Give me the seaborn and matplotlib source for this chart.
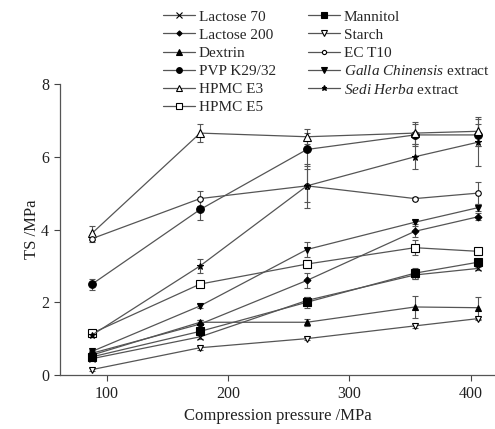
import numpy as np
import pandas as pd
import matplotlib
matplotlib.use("Agg")
import matplotlib.pyplot as plt
import seaborn as sns

pressure = [88, 177, 265, 354, 406]

series_names = ["Lactose 70", "Lactose 200", "Dextrin", "PVP K29/32", "HPMC E3",
                "HPMC E5", "Mannitol", "Starch", "EC T10",
                "Galla Chinensis extract", "Sedi Herba extract"]

lactose70 = [0.45, 1.05, 2.05, 2.75, 2.93]
lactose200 = [0.60, 1.40, 2.60, 3.95, 4.35]
dextrin = [0.55, 1.45, 1.45, 1.87, 1.85]
pvp = [2.50, 4.55, 6.20, 6.60, 6.60]
hpmc_e3 = [3.90, 6.65, 6.55, 6.65, 6.70]
hpmc_e5 = [1.15, 2.50, 3.05, 3.50, 3.40]
mannitol = [0.50, 1.20, 2.00, 2.80, 3.10]
starch = [0.15, 0.75, 1.00, 1.35, 1.55]
ec_t10 = [3.75, 4.85, 5.20, 4.85, 5.00]
galla = [0.65, 1.90, 3.45, 4.20, 4.60]
sedi = [1.10, 3.00, 5.20, 6.00, 6.40]

err_lactose70 = [0.05, 0.05, 0.10, 0.10, 0.05]
err_lactose200 = [0.05, 0.10, 0.20, 0.15, 0.10]
err_dextrin = [0.10, 0.05, 0.10, 0.30, 0.30]
err_pvp = [0.15, 0.30, 0.45, 0.30, 0.30]
err_hpmc_e3 = [0.20, 0.25, 0.20, 0.30, 0.40]
err_hpmc_e5 = [0.10, 0.05, 0.10, 0.20, 0.10]
err_mannitol = [0.05, 0.10, 0.15, 0.15, 0.05]
err_starch = [0.05, 0.05, 0.05, 0.05, 0.05]
err_ec_t10 = [0.10, 0.20, 0.60, 0.05, 0.30]
err_galla = [0.05, 0.05, 0.20, 0.05, 0.10]
err_sedi = [0.05, 0.20, 0.45, 0.35, 0.65]

values = [lactose70, lactose200, dextrin, pvp, hpmc_e3, hpmc_e5, mannitol,
          starch, ec_t10, galla, sedi]
errors = [err_lactose70, err_lactose200, err_dextrin, err_pvp, err_hpmc_e3,
          err_hpmc_e5, err_mannitol, err_starch, err_ec_t10, err_galla, err_sedi]

rows = []
for name, vals, errs in zip(series_names, values, errors):
    for x, v, e in zip(pressure, vals, errs):
        rows.append({"series": name, "pressure": x, "TS": v, "err": e})
df = pd.DataFrame(rows)

sns.set_theme(style="ticks")
plt.rcParams["font.family"] = ["Liberation Serif", "DejaVu Serif"]
plt.rcParams["mathtext.fontset"] = "custom"
plt.rcParams["mathtext.rm"] = "Liberation Serif"
plt.rcParams["mathtext.it"] = "Liberation Serif:italic"

styles = {
    "Lactose 70": dict(marker="x", mfc="black", ms=5),
    "Lactose 200": dict(marker="D", mfc="black", ms=3.5),
    "Dextrin": dict(marker="^", mfc="black", ms=5),
    "PVP K29/32": dict(marker="o", mfc="black", ms=5.5),
    "HPMC E3": dict(marker="^", mfc="white", ms=5.5),
    "HPMC E5": dict(marker="s", mfc="white", ms=5.5),
    "Mannitol": dict(marker="s", mfc="black", ms=5.5),
    "Starch": dict(marker="v", mfc="white", ms=5),
    "EC T10": dict(marker="o", mfc="white", ms=4),
    "Galla Chinensis extract": dict(marker="v", mfc="black", ms=5),
    "Sedi Herba extract": dict(marker="*", mfc="black", ms=5),
}
labels = {
    "Galla Chinensis extract": r"$\mathit{Galla\ Chinensis}$ extract",
    "Sedi Herba extract": r"$\mathit{Sedi\ Herba}$ extract",
}

fig = plt.figure(figsize=(4.95, 4.29), dpi=100)
ax = fig.add_axes([60 / 495, 1 - 375 / 429, 435 / 495, (375 - 84) / 429])

line_color = "#555555"
handles = []
for name in series_names:
    sub = df[df["series"] == name]
    st = styles[name]
    ax.errorbar(sub["pressure"], sub["TS"], yerr=sub["err"], fmt="none",
                ecolor=line_color, elinewidth=0.8, capsize=2.5, capthick=0.8, zorder=2)
    sns.lineplot(data=sub, x="pressure", y="TS", ax=ax, color=line_color,
                 linewidth=0.9, marker=st["marker"], markersize=st["ms"],
                 markerfacecolor=st["mfc"], markeredgecolor="black",
                 markeredgewidth=0.8, legend=False, zorder=3)
    h, = ax.plot([], [], color=line_color, linewidth=0.9, marker=st["marker"],
                 markersize=st["ms"] * 0.75, markerfacecolor=st["mfc"],
                 markeredgecolor="black", markeredgewidth=0.8,
                 label=labels.get(name, name))
    handles.append(h)

ax.set_xlim(61.5, 420)
ax.set_ylim(0, 8)
ax.set_xticks([100, 200, 300, 400])
ax.set_yticks([0, 2, 4, 6, 8])
ax.tick_params(axis="both", direction="out", length=4, width=0.8, colors="#444444",
               labelsize=11.5, labelcolor="#222222", pad=4)
for s in ["top", "right"]:
    ax.spines[s].set_visible(False)
for s in ["left", "bottom"]:
    ax.spines[s].set_color("#555555")
    ax.spines[s].set_linewidth(0.9)

ax.set_xlabel("Compression pressure /MPa", fontsize=12, color="#222222", labelpad=4)
ax.set_ylabel("TS /MPa", fontsize=12, color="#222222", labelpad=1)

fig.legend(handles=handles, loc="upper left", bbox_to_anchor=(163 / 495, 1 - 10 / 429),
           ncol=2, frameon=False, fontsize=11, handlelength=2.1, handletextpad=0.25,
           columnspacing=2.1, labelspacing=0.29, borderpad=0, borderaxespad=0)

fig.savefig("out.png", dpi=100)
